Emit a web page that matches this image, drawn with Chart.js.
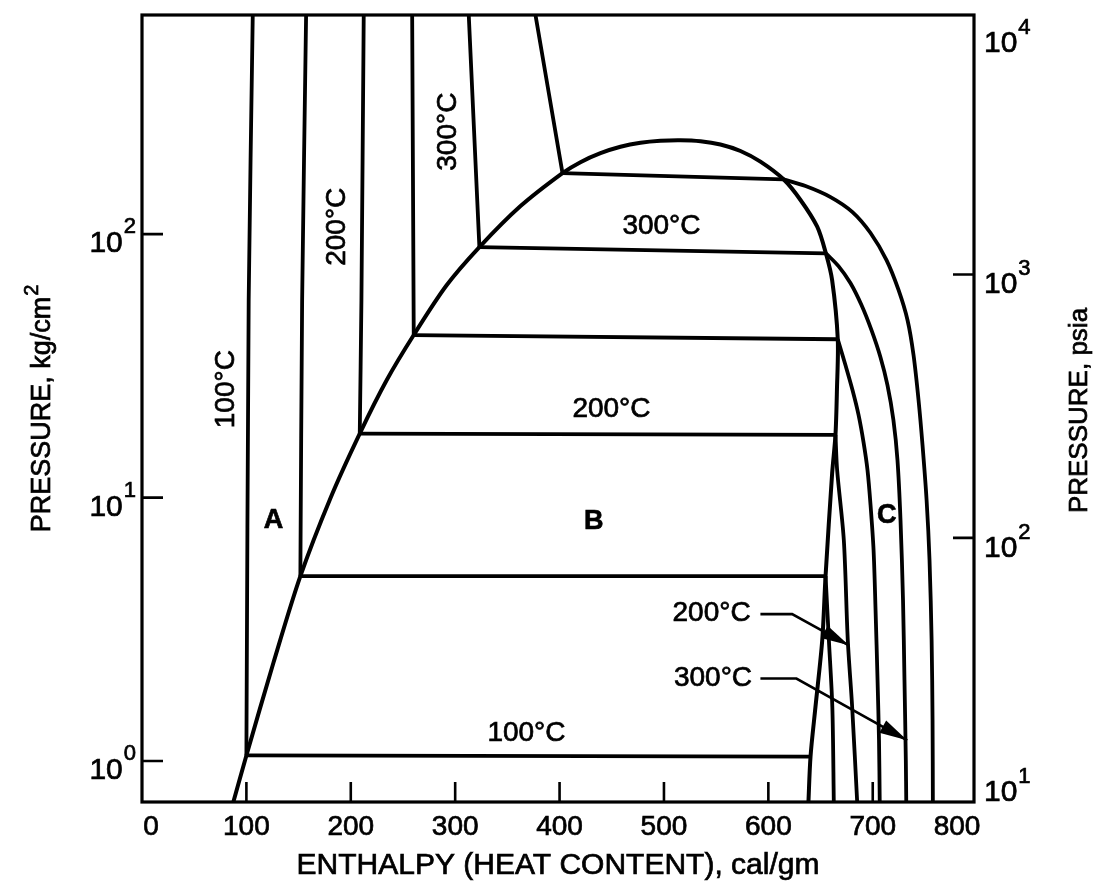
<!DOCTYPE html>
<html>
<head>
<meta charset="utf-8">
<script src="https://cdn.jsdelivr.net/npm/chart.js@4.4.1/dist/chart.umd.min.js"></script>
<style>
    html, body { margin: 0; padding: 0; background: #fff; }
</style>
</head>
<body>
<canvas id="chart" width="1098" height="888"></canvas>
<script>
// Achsen
const enthalpyTicks = [0, 100, 200, 300, 400, 500, 600, 700, 800];
const kgTicks = [1, 10, 100];
const psiaTicks = [10, 100, 1000, 10000];
const pMin = 0.699, pMax = 679;
const psiPerKg = 14.223;

// Sättigungskurve (Flüssigkeit -> kritischer Punkt -> Dampf)
const domeH = [87.5, 100.0, 125.9, 151.7, 180.5, 208.6, 234.6, 260.3, 291.6, 323.2, 362.6, 402.8,
    420.0, 439.2, 458.3, 477.5, 496.6, 515.8, 535.0, 554.1, 573.3, 592.4, 614.5,
    630.8, 646.8, 655.1, 661.1, 666.5, 665.7, 664.3, 661.1, 654.8, 651.6, 645.1, 640.4, 638.4];
const domeP = [0.699, 1.05, 2.36, 5.03, 9.95, 17.5, 28.0, 41.4, 63.8, 89.3, 127.8, 170.5,
    187.6, 202.9, 214.6, 222.3, 226.2, 227.3, 225.3, 218.9, 206.8, 188.4, 161.5,
    134.8, 106.7, 84.6, 66.9, 39.9, 25.6, 17.3, 12.35, 5.03, 2.87, 1.60, 1.04, 0.699];

// Isothermen im Nassdampfgebiet (100..350 °C)
const liquidEndH = [100.0, 151.7, 208.6, 260.3, 323.2, 402.8];
const liquidEndP = [1.05, 5.03, 17.5, 41.4, 89.3, 170.5];
const vaporEndH = [640.4, 654.8, 664.3, 666.5, 655.1, 614.5];
const vaporEndP = [1.04, 5.03, 17.3, 39.9, 84.6, 161.5];

// Isothermen im Flüssigkeitsgebiet
const liq100H = [100.0, 102.2, 106.1], liq100P = [1.05, 56.2, 680];
const liq150H = [151.7, 153.4, 157.2], liq150P = [5.03, 56.2, 680];
const liq200H = [208.6, 210.2, 212.4], liq200P = [17.5, 56.2, 680];
const liq250H = [260.3, 258.8], liq250P = [41.4, 680];
const liq300H = [323.2, 313.0], liq300P = [89.3, 680];
const liq350H = [402.8, 376.9], liq350P = [170.5, 680];

// Isothermen im Heissdampfgebiet
const sh150H = [654.8, 658.0, 661.3, 662.7];
const sh150P = [5.03, 2.87, 1.60, 0.699];
const sh200H = [664.3, 665.9, 672.3, 676.1, 680.3, 685.1];
const sh200P = [17.3, 12.71, 6.89, 2.87, 1.60, 0.699];
const sh250H = [666.5, 673.9, 680.6, 686.4, 691.2, 695.0, 697.9, 700.8, 702.7, 704.6, 706.0, 706.7];
const sh250P = [39.9, 31.8, 25.6, 20.6, 16.2, 12.7, 9.36, 6.31, 3.74, 2.03, 1.198, 0.699];
const sh300H = [655.1, 667.2, 678.6, 689.2, 698.8, 707.4, 714.1, 719.8, 723.7, 726.6, 729.0, 730.4, 731.7, 732.1];
const sh300P = [84.6, 75.6, 65.2, 53.8, 43.2, 34.1, 26.7, 19.7, 13.87, 8.21, 4.08, 2.03, 1.006, 0.699];
const sh350H = [614.5, 635.6, 659.6, 680.6, 697.9, 713.2, 724.7, 733.3, 739.1, 743.9, 747.7, 751.6, 754.4, 756.4, 757.3, 757.6];
const sh350P = [161.5, 152.3, 138.3, 121.3, 101.0, 79.7, 61.4, 47.2, 34.7, 23.4, 15.8, 9.77, 5.78, 2.87, 1.428, 0.699];

// Beschriftungen im Diagramm
const labelText = ['100°C', '200°C', '300°C', '300°C', '200°C', '100°C', '200°C', '300°C', 'A', 'B', 'C'];
const labelH = [80.7, 186.9, 293.1, 497.6, 449.7, 368.3, 545.6, 547.0, 125.9, 432.8, 713.4];
const labelP = [25.8, 106.7, 244.9, 107.3, 21.7, 1.28, 3.64, 2.06, 8.2, 8.1, 8.58];
const labelVertical = [true, true, true, false, false, false, false, false, false, false, false];
const labelBold = [false, false, false, false, false, false, false, false, true, true, true];

// Pfeile zu den Heissdampf-Isothermen
const arrow200H = [592.4, 622.8, 677.1], arrow200P = [3.61, 3.61, 2.75];
const arrow300H = [592.4, 626.9, 733.0], arrow300P = [2.056, 2.056, 1.198];

const FONT = '"Liberation Sans", Arial, sans-serif';

function toPoints(hs, ps) {
    return hs.map((h, i) => ({ x: h, y: ps[i] }));
}

function curve(hs, ps, width, tension) {
    return {
        data: toPoints(hs, ps),
        showLine: true,
        borderColor: '#000',
        borderWidth: width,
        pointRadius: 0,
        tension: tension,
        fill: false
    };
}

const datasets = [curve(domeH, domeP, 4, 0.3)];
liquidEndH.forEach((h, i) => {
    datasets.push(curve([h, vaporEndH[i]], [liquidEndP[i], vaporEndP[i]], 3.8, 0));
});
[[liq100H, liq100P], [liq150H, liq150P], [liq200H, liq200P], [liq250H, liq250P], [liq300H, liq300P], [liq350H, liq350P]]
    .forEach(([hs, ps]) => datasets.push(curve(hs, ps, 3.8, 0.2)));
[[sh150H, sh150P], [sh200H, sh200P], [sh250H, sh250P], [sh300H, sh300P], [sh350H, sh350P]]
    .forEach(([hs, ps]) => datasets.push(curve(hs, ps, 3.8, 0.3)));

// Text etwas kräftiger, wie im gedruckten Original
function heavyText(ctx, t, x, y) {
    ctx.fillText(t, x, y);
    ctx.strokeText(t, x, y);
}

function drawArrow(ctx, x, y, hs, ps) {
    const pts = hs.map((h, i) => [x.getPixelForValue(h), y.getPixelForValue(ps[i])]);
    ctx.lineWidth = 2.6;
    ctx.beginPath();
    pts.forEach((p, i) => (i ? ctx.lineTo(p[0], p[1]) : ctx.moveTo(p[0], p[1])));
    ctx.stroke();
    const [tx, ty] = pts[pts.length - 1];
    const [px, py] = pts[pts.length - 2];
    const ang = Math.atan2(ty - py, tx - px);
    const len = 28, half = 7;
    ctx.beginPath();
    ctx.moveTo(tx, ty);
    ctx.lineTo(tx - len * Math.cos(ang) - half * Math.sin(ang), ty - len * Math.sin(ang) + half * Math.cos(ang));
    ctx.lineTo(tx - len * Math.cos(ang) + half * Math.sin(ang), ty - len * Math.sin(ang) - half * Math.cos(ang));
    ctx.closePath();
    ctx.fill();
}

// Rahmen, Ticks, Achsenbeschriftung und Textmarken
const paperAxes = {
    id: 'paperAxes',
    afterDraw(chart) {
        const { ctx, chartArea: a } = chart;
        const x = chart.scales.x, y = chart.scales.y, y2 = chart.scales.y2;
        ctx.save();
        ctx.strokeStyle = '#000';
        ctx.fillStyle = '#000';

        ctx.lineWidth = 3.2;
        ctx.strokeRect(a.left, a.top, a.right - a.left, a.bottom - a.top);

        // Ticks nach innen
        ctx.lineWidth = 2.6;
        ctx.beginPath();
        enthalpyTicks.forEach(v => {
            const px = x.getPixelForValue(v);
            if (px > a.left + 5 && px < a.right - 5) {
                ctx.moveTo(px, a.bottom);
                ctx.lineTo(px, a.bottom - 20);
            }
        });
        kgTicks.forEach(v => {
            const py = y.getPixelForValue(v);
            ctx.moveTo(a.left, py);
            ctx.lineTo(a.left + 21, py);
        });
        psiaTicks.forEach(v => {
            const py = y2.getPixelForValue(v);
            if (py > a.top + 5 && py < a.bottom - 5) {
                ctx.moveTo(a.right, py);
                ctx.lineTo(a.right - 21, py);
            }
        });
        ctx.stroke();

        ctx.lineWidth = 0.7;
        ctx.textBaseline = 'alphabetic';

        // x-Beschriftung
        ctx.font = `28px ${FONT}`;
        ctx.textAlign = 'center';
        enthalpyTicks.forEach(v => {
            const px = Math.min(Math.max(x.getPixelForValue(v), a.left + 9), a.right - 17);
            heavyText(ctx, String(v), px, a.bottom + 33);
        });

        // linke y-Beschriftung (10^n)
        kgTicks.forEach(v => {
            const py = y.getPixelForValue(v);
            const e = String(Math.round(Math.log10(v)));
            ctx.font = `22px ${FONT}`;
            const ew = ctx.measureText(e).width;
            ctx.textAlign = 'right';
            heavyText(ctx, e, a.left - 6, py - 1);
            ctx.font = `30px ${FONT}`;
            heavyText(ctx, '10', a.left - 7 - ew, py + 18);
        });

        // rechte y-Beschriftung (psia)
        psiaTicks.forEach(v => {
            const py = y2.getPixelForValue(v);
            const base = Math.min(Math.max(py + 19, a.top + 37), a.bottom - 1);
            ctx.font = `30px ${FONT}`;
            ctx.textAlign = 'left';
            heavyText(ctx, '10', a.right + 10, base);
            const w = ctx.measureText('10').width;
            ctx.font = `22px ${FONT}`;
            heavyText(ctx, String(Math.round(Math.log10(v))), a.right + 11 + w, base - 18);
        });

        // Achsentitel
        ctx.font = `30px ${FONT}`;
        ctx.textAlign = 'center';
        heavyText(ctx, 'ENTHALPY (HEAT CONTENT), cal/gm', (a.left + a.right) / 2, 874);

        const cy = (a.top + a.bottom) / 2;
        ctx.save();
        ctx.translate(50, cy);
        ctx.rotate(-Math.PI / 2);
        ctx.font = `27px ${FONT}`;
        const mainTitle = 'PRESSURE, kg/cm';
        const mw = ctx.measureText(mainTitle).width;
        ctx.font = `20px ${FONT}`;
        const sw = ctx.measureText('2').width;
        const start = -(mw + sw + 1) / 2;
        ctx.textAlign = 'left';
        ctx.font = `27px ${FONT}`;
        heavyText(ctx, mainTitle, start, 0);
        ctx.font = `20px ${FONT}`;
        heavyText(ctx, '2', start + mw + 1, -12);
        ctx.restore();

        ctx.save();
        ctx.translate(1087, cy + 2);
        ctx.rotate(-Math.PI / 2);
        ctx.font = `26px ${FONT}`;
        ctx.textAlign = 'center';
        heavyText(ctx, 'PRESSURE, psia', 0, 0);
        ctx.restore();

        // Textmarken
        labelText.forEach((t, i) => {
            const px = x.getPixelForValue(labelH[i]);
            const py = y.getPixelForValue(labelP[i]);
            ctx.save();
            ctx.translate(px, py);
            if (labelVertical[i]) ctx.rotate(-Math.PI / 2);
            ctx.font = labelBold[i] ? `bold 27px ${FONT}` : `28px ${FONT}`;
            ctx.textAlign = 'center';
            ctx.textBaseline = 'middle';
            heavyText(ctx, t, 0, 0);
            ctx.restore();
        });

        drawArrow(ctx, x, y, arrow200H, arrow200P);
        drawArrow(ctx, x, y, arrow300H, arrow300P);
        ctx.restore();
    }
};

new Chart(document.getElementById('chart'), {
    type: 'scatter',
    data: { datasets: datasets },
    options: {
        responsive: false,
        animation: false,
        devicePixelRatio: 1,
        layout: { padding: { top: 15, left: 0, right: 0, bottom: 0 } },
        plugins: { legend: { display: false }, tooltip: { enabled: false } },
        scales: {
            x: {
                type: 'linear', min: 0, max: 797,
                ticks: { display: false }, grid: { display: false }, border: { display: false },
                afterFit: s => { s.height = 86; }
            },
            y: {
                type: 'logarithmic', position: 'left', min: pMin, max: pMax,
                ticks: { display: false }, grid: { display: false }, border: { display: false },
                afterFit: s => { s.width = 142; }
            },
            y2: {
                type: 'logarithmic', position: 'right', min: pMin * psiPerKg, max: pMax * psiPerKg,
                ticks: { display: false }, grid: { display: false }, border: { display: false },
                afterFit: s => { s.width = 124; }
            }
        }
    },
    plugins: [paperAxes]
});
</script>
</body>
</html>
